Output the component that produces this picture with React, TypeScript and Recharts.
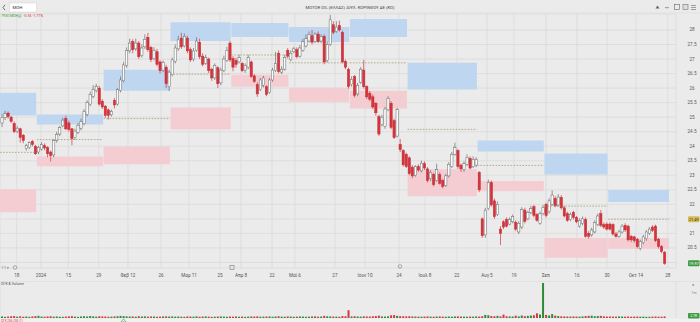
import React from 'react';
import { ComposedChart, Bar, XAxis, YAxis, CartesianGrid, ReferenceArea, ReferenceLine } from 'recharts';

// ---- daily candles (Dec 2023 .. Oct 2024), MOH ----
const opens = [
  24.80,24.98,25.14,25.00,24.78,24.52,24.60,24.38,23.92,23.95,24.16,24.00,
  23.80,23.90,24.02,23.96,23.80,23.70,24.20,24.42,24.70,24.95,24.80,24.60,24.30,24.48,24.62,24.78,25.10,25.45,25.72,25.92,26.00,25.55,
  25.38,25.25,25.08,25.58,25.45,25.92,26.25,26.78,27.28,27.60,27.35,27.55,27.12,27.42,27.75,27.40,27.02,27.25,26.90,26.62,26.72,26.05,
  26.46,26.92,27.35,27.72,27.45,27.72,27.32,27.00,27.30,27.58,27.10,26.85,27.00,26.65,26.35,26.70,26.18,26.60,26.95,27.55,
  27.02,26.95,26.90,26.85,26.62,26.72,26.90,26.42,26.12,25.95,26.10,26.05,25.85,26.28,26.60,27.20,26.55,26.65,27.30,
  26.98,27.25,27.32,27.10,27.30,27.45,27.62,27.80,27.60,27.86,27.62,27.78,26.95,27.50,28.18,27.95,28.15,27.92,26.92,26.65,
  26.12,26.40,25.80,26.20,26.62,26.05,25.82,25.70,25.48,25.02,24.75,24.68,25.26,25.48,24.88,24.35,24.06,23.85,23.72,
  23.60,23.28,23.00,23.30,23.15,23.40,23.22,22.88,23.02,22.82,23.02,22.82,22.65,22.98,23.30,23.72,23.85,23.35,23.20,23.38,23.58,23.30,23.35,
  23.10,21.50,20.95,21.85,22.75,22.12,21.65,21.15,21.40,21.48,21.32,21.40,21.38,21.05,21.22,21.80,21.50,21.72,21.92,21.65,21.35,21.68,
  22.00,21.75,22.00,22.20,21.98,22.24,21.88,21.68,21.48,21.72,21.55,21.25,21.35,21.48,21.00,20.95,21.05,21.30,21.68,21.30,21.32,
  21.32,21.30,20.98,20.90,21.05,21.28,21.25,20.90,20.88,20.80,20.48,20.68,20.82,21.00,21.22,21.25,20.80,20.55,20.35,
];
const highs = [
  25.10,25.22,25.20,25.05,24.85,24.70,24.64,24.42,24.08,24.16,24.22,24.05,
  24.02,24.14,24.10,24.00,23.85,24.25,24.50,24.70,24.98,25.05,24.88,24.62,24.60,24.80,24.95,25.28,25.58,25.88,26.10,26.15,26.08,25.62,
  25.42,25.30,25.26,25.66,26.00,26.40,26.90,27.40,27.70,27.68,27.70,27.62,27.50,27.85,27.90,27.45,27.40,27.35,26.95,26.95,26.80,26.62,
  27.05,27.50,27.80,27.90,27.88,27.80,27.40,27.38,27.75,27.70,27.20,27.15,27.05,26.70,26.85,26.75,26.70,27.12,27.42,27.62,
  27.10,27.05,27.15,26.90,26.85,27.15,26.95,26.48,26.20,26.35,26.42,26.10,26.35,26.70,27.25,27.30,26.75,27.15,27.38,
  27.30,27.42,27.40,27.48,27.70,27.85,27.95,28.00,27.92,27.95,27.85,27.85,27.60,28.52,28.30,28.30,28.32,27.98,26.98,26.70,
  26.40,26.45,26.18,26.72,26.97,26.10,25.90,25.78,25.52,25.08,25.08,25.35,25.72,25.55,24.95,25.32,24.25,23.90,23.78,
  23.65,23.35,23.35,23.38,23.50,23.48,23.28,23.18,23.08,23.40,23.10,22.88,23.05,23.45,23.80,24.12,23.90,23.40,23.48,23.72,23.65,23.65,23.62,
  23.15,21.55,21.88,22.85,22.82,22.20,22.10,21.25,21.45,21.55,21.55,21.65,21.45,21.42,21.90,21.88,21.78,21.95,21.98,21.70,21.75,21.98,
  22.05,22.20,22.48,22.28,22.35,22.32,21.95,21.75,21.72,21.78,21.60,21.52,21.58,21.55,21.08,21.20,21.45,21.68,21.80,21.38,21.38,
  21.38,21.35,21.05,21.12,21.32,21.35,21.30,20.95,20.92,20.85,20.78,20.95,21.12,21.22,21.28,21.30,20.85,20.60,20.40,
];
const lows = [
  24.66,24.90,24.95,24.80,24.45,24.45,24.12,24.10,23.85,23.90,24.00,23.70,
  23.72,23.85,23.86,23.62,23.48,23.62,24.12,24.35,24.66,24.55,24.50,24.04,24.22,24.42,24.55,24.72,25.02,25.38,25.65,25.85,25.40,25.28,
  24.98,24.92,25.02,25.30,25.40,25.85,26.20,26.70,27.20,27.20,27.28,27.00,27.05,27.35,27.25,26.90,26.95,26.75,26.50,26.55,26.00,25.90,
  26.40,26.85,27.28,27.35,27.40,27.20,26.90,26.92,27.25,27.00,26.75,26.80,26.52,26.25,26.28,26.00,26.10,26.55,26.90,26.90,
  26.58,26.70,26.85,26.55,26.52,26.65,26.35,26.18,25.70,25.90,26.02,25.72,25.80,26.22,26.55,26.50,26.48,26.60,27.02,
  26.92,27.20,27.02,27.05,27.25,27.40,27.58,27.50,27.55,27.55,27.55,26.82,26.88,27.45,27.85,27.90,27.95,26.85,26.65,25.98,
  26.05,25.68,25.72,26.15,25.98,25.62,25.55,25.28,25.05,24.35,24.68,24.60,25.20,24.58,24.25,24.30,23.80,23.30,23.25,
  23.00,22.90,22.95,23.12,23.10,23.18,22.75,22.80,22.62,22.78,22.68,22.55,22.60,22.92,23.25,23.68,23.22,23.12,23.12,23.32,23.20,23.25,23.28,
  22.42,20.85,20.85,21.80,21.92,21.50,21.60,20.60,21.15,21.20,21.28,21.35,21.08,20.98,21.15,21.35,21.45,21.66,21.55,21.40,21.30,21.62,
  21.55,21.68,21.95,21.90,21.92,21.82,21.55,21.40,21.42,21.48,21.35,21.20,21.28,20.85,20.82,20.88,21.00,21.25,21.22,21.15,21.10,
  21.10,20.92,20.85,20.85,21.00,21.05,20.72,20.70,20.68,20.48,20.42,20.62,20.75,20.95,21.05,20.70,20.48,20.32,19.92,
];
const closes = [
  24.98,25.12,25.02,24.86,24.50,24.62,24.30,24.20,24.02,24.12,24.06,23.74,
  23.96,24.06,23.94,23.74,23.68,24.20,24.40,24.65,24.90,24.60,24.58,24.26,24.52,24.72,24.85,25.20,25.50,25.78,25.95,26.05,25.45,25.35,
  25.06,25.06,25.20,25.42,25.95,26.28,26.80,27.30,27.55,27.32,27.55,27.08,27.38,27.68,27.32,26.98,27.30,26.82,26.60,26.88,26.15,26.55,
  26.97,27.38,27.66,27.42,27.78,27.28,26.97,27.28,27.62,27.08,26.82,27.05,26.60,26.35,26.78,26.15,26.62,27.00,27.30,26.97,
  26.72,26.82,27.05,26.60,26.78,27.05,26.40,26.23,25.80,26.28,26.35,25.78,26.28,26.62,26.85,26.57,26.65,27.05,27.10,
  27.20,27.35,27.08,27.38,27.60,27.70,27.85,27.58,27.86,27.60,27.78,26.90,27.50,28.35,27.92,28.10,28.00,26.90,26.72,26.05,
  26.30,25.75,26.10,26.65,26.05,25.70,25.62,25.35,25.15,24.42,25.00,25.28,25.65,24.65,24.30,25.26,23.88,23.36,23.30,
  23.06,22.98,23.30,23.18,23.42,23.25,22.82,23.10,22.68,23.20,22.72,22.62,22.98,23.38,23.72,23.95,23.30,23.22,23.40,23.62,23.25,23.55,23.55,
  22.50,20.92,21.80,22.75,21.98,21.58,22.00,21.00,21.22,21.25,21.48,21.58,21.15,21.35,21.82,21.42,21.72,21.85,21.62,21.45,21.68,21.90,
  21.62,22.12,22.32,21.95,22.25,21.88,21.60,21.45,21.65,21.55,21.40,21.45,21.50,20.90,20.90,21.12,21.38,21.60,21.28,21.22,21.15,
  21.15,20.98,20.90,21.05,21.25,21.12,20.78,20.78,20.75,20.55,20.72,20.88,21.05,21.15,21.10,20.75,20.55,20.38,19.97,
];
const volumes = [
  1.6,1.2,1.5,1.8,2.0,1.4,1.7,1.3,1.5,1.2,1.6,1.9,
  2.2,1.5,1.3,1.6,1.8,1.4,1.6,1.3,1.2,1.5,1.7,1.9,1.4,1.2,1.6,1.8,1.5,2.0,1.7,1.4,1.8,1.6,
  1.5,1.3,1.4,1.6,1.8,2.1,1.9,1.7,1.5,1.6,1.3,1.8,1.5,1.7,1.4,1.6,1.5,1.3,1.4,1.6,1.7,1.5,
  1.6,1.4,1.5,1.3,1.2,1.6,1.5,1.4,1.7,1.3,1.5,1.6,1.4,1.2,1.3,1.5,1.6,1.4,1.3,1.5,
  1.4,1.6,1.3,1.5,1.2,1.4,1.6,1.5,1.7,1.3,1.4,1.5,1.6,1.3,1.5,1.8,1.4,1.3,1.6,
  1.5,1.3,1.4,1.6,1.5,1.3,1.4,1.6,1.7,1.4,1.5,2.2,1.8,1.6,1.5,1.4,1.3,2.0,1.8,8.0,
  1.6,1.8,1.5,1.4,1.7,1.6,1.5,1.8,2.0,2.4,1.6,1.5,1.7,2.8,3.0,2.2,1.9,1.8,1.7,
  1.8,1.6,1.5,1.4,1.3,1.5,1.6,1.4,1.3,1.5,1.6,1.4,1.3,1.5,1.4,1.6,1.7,1.5,1.4,1.3,1.5,1.4,1.6,
  1.5,1.8,3.2,2.8,2.0,1.8,2.2,1.7,3.5,1.8,1.6,1.5,2.4,1.7,2.6,1.9,2.2,2.5,2.8,4.8,3.6,36,
  3.2,2.6,4.0,2.4,2.0,1.7,1.6,1.5,1.4,1.6,1.5,1.4,1.6,2.0,2.2,2.4,1.8,2.0,2.2,1.7,1.5,
  1.6,1.5,1.4,1.6,1.5,1.4,1.5,1.3,1.4,1.5,1.3,1.4,1.2,1.3,1.4,1.5,1.3,1.4,1.6,
];

// ---- x-axis ticks (candle index -> label) ----
const tickIdx = [5, 13, 22, 32, 41.6, 52.5, 61.7, 71.9, 78.8, 89, 96.5, 109.7, 119.6, 130.8, 139.3, 149.8, 159.7, 168.6, 179.1, 189.3, 199.2, 208.7, 219.2];
const tickLabels = ['18', '2024', '15', '29', 'Φεβ 12', '26', 'Μαρ 11', '25', 'Απρ 8', '22', 'Μαϊ 6', '27', 'Ιουν 10', '24', 'Ιουλ 8', '22', 'Αυγ 5', '19', 'Σεπ', '16', '30', 'Οκτ 14', '28'];
const priceTicks = [20, 20.5, 21, 21.5, 22, 22.5, 23, 23.5, 24, 24.5, 25, 25.5, 26, 26.5, 27, 27.5, 28];
const hiddenPriceTicks = [20, 21.5];

// ---- monthly zones ----
const zoneStart = [-0.5, 11.6, 33.6, 55.6, 75.6, 94.6, 114.6, 133.6, 156.6, 178.6, 199.6];
const zoneEnd = [11.4, 33.4, 55.4, 75.4, 94.4, 114.4, 133.4, 156.4, 178.4, 199.4, 219.6];
const blueHi = [25.84, 25.09, 26.63, 28.27, 28.24, 28.10, 28.38, 26.87, 24.20, 23.75, 22.49];
const blueLo = [25.06, 24.75, 25.91, 27.62, 27.76, 27.59, 27.76, 25.95, 23.82, 23.03, 22.08];
const pinkHi = [22.52, 23.65, 23.99, 25.33, 26.46, 26.01, 25.91, 23.21, 22.80, 20.84, 20.84];
const pinkLo = [21.73, 23.31, 23.38, 24.58, 26.05, 25.53, 25.30, 22.28, 22.45, 20.16, 20.47];
const pivot = [23.79, 24.23, 24.95, 26.48, 27.14, 26.87, 26.87, 24.58, 23.34, 21.94, 21.49];

const candles = opens.map((o, i) => ({ i, o, h: highs[i], l: lows[i], c: closes[i], v: volumes[i] }));
const lastClose = closes[closes.length - 1];
const lastPivot = pivot[pivot.length - 1];

const FONT = 'Roboto, "DejaVu Sans", Arial, sans-serif';
const BG = '#ebebeb';
const GRID = '#d8d8d8';
const UP_FILL = '#fbfbfb';
const UP_LINE = '#6a6a6a';
const DOWN = '#d6343c';
const BLUE = '#bfd6f0';
const PINK = '#f3cdd1';
const PIVOT_C = '#9c8f66';
const X_DOMAIN: [number, number] = [-0.5, 221.9];

const Candle = (props: any) => {
  const { x, y, width, height, payload } = props;
  if (!payload) return null;
  const { o, h, l, c } = payload;
  const top = Math.min(y, y + height);
  const hgt = Math.abs(height);
  const ratio = h === l ? 0 : hgt / (h - l);
  const py = (v: number) => top + (h - v) * ratio;
  const cx = x + width / 2;
  const up = c >= o;
  const bw = 2.3;
  const bTop = py(Math.max(o, c));
  const bH = Math.max(0.8, Math.abs(py(o) - py(c)));
  return (
    <g>
      <line x1={cx} x2={cx} y1={top} y2={top + hgt} stroke={up ? UP_LINE : DOWN} strokeWidth={0.7} />
      <rect x={cx - bw / 2} y={bTop} width={bw} height={bH} fill={up ? UP_FILL : DOWN} stroke={up ? UP_LINE : '#c42c34'} strokeWidth={0.5} />
    </g>
  );
};

const VolBar = (props: any) => {
  const { x, y, width, height, payload } = props;
  if (!payload) return null;
  const up = payload.c >= payload.o;
  return <rect x={x} y={y} width={width} height={Math.max(0.8, height)} fill={up ? '#2f8a35' : '#d23a40'} />;
};

const XTick = (props: any) => {
  const { x, payload } = props;
  const k = tickIdx.indexOf(payload.value);
  return (
    <text x={x} y={276} textAnchor="middle" dominantBaseline="middle" fontSize={4.6} fill="#555" fontFamily={FONT}>
      {k >= 0 ? tickLabels[k] : ''}
    </text>
  );
};

const YTick = (props: any) => {
  const { y, payload } = props;
  if (hiddenPriceTicks.includes(payload.value)) return <g />;
  return (
    <text x={692} y={y} textAnchor="middle" dominantBaseline="central" fontSize={4.6} fill="#555" fontFamily={FONT}>
      {String(payload.value)}
    </text>
  );
};

const PriceBadge = (fill: string, textFill: string, text: string) => (p: any) => {
  const vb = p.viewBox || {};
  const bx = (vb.x || 0) + (vb.width || 0) + 12;
  const by = vb.y || 0;
  return (
    <g>
      <rect x={bx} y={by - 3} width={11.5} height={6} rx={1} fill={fill} />
      <text x={bx + 5.75} y={by} textAnchor="middle" dominantBaseline="central" fontSize={4} fill={textFill} fontFamily={FONT}>{text}</text>
    </g>
  );
};

export default function App() {
  return (
    <div style={{ position: 'fixed', left: 0, top: 0, width: 700, height: 322, background: BG, overflow: 'hidden', fontFamily: FONT }}>
      <div style={{ position: 'absolute', left: 0, top: 0 }}>
        <ComposedChart width={700} height={282} data={candles} margin={{ top: 14, right: 0, bottom: 0, left: 0 }}>
          <CartesianGrid stroke={GRID} strokeWidth={0.7} />
          <XAxis dataKey="i" type="number" domain={X_DOMAIN} ticks={tickIdx} interval={0} height={14} axisLine={false} tickLine={false} tick={<XTick />} allowDataOverflow />
          <YAxis orientation="right" type="number" domain={[19.81, 28.55]} ticks={priceTicks} interval={0} width={24} axisLine={false} tickLine={false} tick={<YTick />} allowDataOverflow />
          {zoneStart.map((s, k) => (
            <ReferenceArea key={'b' + k} x1={s} x2={zoneEnd[k]} y1={blueLo[k]} y2={blueHi[k]} fill={BLUE} fillOpacity={1} stroke="none" ifOverflow="extendDomain" />
          ))}
          {zoneStart.map((s, k) => (
            <ReferenceArea key={'p' + k} x1={s} x2={zoneEnd[k]} y1={pinkLo[k]} y2={pinkHi[k]} fill={PINK} fillOpacity={1} stroke="none" ifOverflow="extendDomain" />
          ))}
          {zoneStart.map((s, k) => (
            <ReferenceLine key={'v' + k} segment={[{ x: s, y: pivot[k] }, { x: zoneEnd[k], y: pivot[k] }]} stroke={PIVOT_C} strokeWidth={0.7} strokeDasharray="1.6 1.4" />
          ))}
          <Bar dataKey={(d: any) => [d.l, d.h]} barSize={2} shape={<Candle />} isAnimationActive={false} />
          <ReferenceLine y={lastPivot} stroke="none" strokeOpacity={0} label={{ content: PriceBadge('#d8bd55', '#333', lastPivot.toFixed(2)) } as any} />
          <ReferenceLine y={lastClose} stroke="none" strokeOpacity={0} label={{ content: PriceBadge('#3e9a44', '#fff', lastClose.toFixed(2)) } as any} />
        </ComposedChart>
      </div>
      <div style={{ position: 'absolute', left: 0, top: 282 }}>
        <ComposedChart width={700} height={38} data={candles} margin={{ top: 0, right: 0, bottom: 2, left: 0 }}>
          <CartesianGrid stroke={GRID} strokeWidth={0.7} horizontal={false} />
          <XAxis dataKey="i" type="number" domain={X_DOMAIN} ticks={tickIdx} interval={0} height={0} axisLine={false} tickLine={false} tick={false} allowDataOverflow />
          <YAxis orientation="right" type="number" domain={[0, 37]} width={24} axisLine={false} tickLine={false} tick={false} allowDataOverflow />
          <Bar dataKey="v" barSize={2} shape={<VolBar />} isAnimationActive={false} />
        </ComposedChart>
      </div>
      <svg width={700} height={322} style={{ position: 'absolute', left: 0, top: 0, pointerEvents: 'none' }} fontFamily={FONT}>
        <line x1={0} x2={700} y1={13} y2={13} stroke="#dcdcdc" strokeWidth={0.6} />
        <polyline points="5,4.8 3,7.5 5,10.2" fill="none" stroke="#555" strokeWidth={0.8} />
        <rect x={9.5} y={3} width={27} height={9} fill="#ffffff" stroke="#d0d0d0" strokeWidth={0.5} />
        <text x={12.5} y={7.6} fontSize={4.4} fill="#333" dominantBaseline="middle">MOH</text>
        <text x={350} y={7.4} fontSize={4.3} fill="#444" textAnchor="middle" dominantBaseline="middle">MOTOR OIL (ΕΛΛΑΣ) ΔΙΥΛ. ΚΟΡΙΝΘΟΥ ΑΕ (ΚΟ)</text>
        <path d="M655.5,8.5 L657.5,5.5 L659.5,8.5 Z" fill="#666" />
        <text x={667} y={7.4} fontSize={4.5} fill="#555" textAnchor="middle" dominantBaseline="middle">↔</text>
        <rect x={674.5} y={4.5} width={5} height={5} fill="none" stroke="#666" strokeWidth={0.6} />
        <rect x={683} y={4.5} width={5} height={5} fill="#dddddd" stroke="#777" strokeWidth={0.6} />
        <line x1={691} x2={696} y1={5.5} y2={5.5} stroke="#666" strokeWidth={0.6} />
        <line x1={691} x2={696} y1={7.5} y2={7.5} stroke="#666" strokeWidth={0.6} />
        <line x1={691} x2={696} y1={9.5} y2={9.5} stroke="#666" strokeWidth={0.6} />
        <text x={1} y={15.8} fontSize={3.6} fill="#3a9a3a" dominantBaseline="middle">7930 MOH@</text>
        <text x={23.5} y={15.8} fontSize={3.6} fill="#d6343c" dominantBaseline="middle">-0.36 -1.77%</text>
        <text x={1.5} y={268.5} fontSize={3.4} fill="#666" dominantBaseline="middle">1:1 ▾</text>
        <circle cx={15} cy={267.5} r={1.8} fill="none" stroke="#666" strokeWidth={0.5} />
        <rect x={230} y={265.5} width={4} height={4} fill="none" stroke="#666" strokeWidth={0.5} />
        <circle cx={400} cy={266.5} r={1.8} fill="none" stroke="#666" strokeWidth={0.5} />
        <line x1={0} x2={700} y1={281.5} y2={281.5} stroke="#d6d6d6" strokeWidth={0.5} />
        <text x={1} y={284.5} fontSize={3.6} fill="#555" dominantBaseline="middle">ΟΓΚ &amp; Volume</text>
        <text x={693} y={284.5} fontSize={4.2} fill="#666" textAnchor="middle" dominantBaseline="middle">×</text>
        <text x={694} y={293.5} fontSize={3.4} fill="#777" textAnchor="middle" dominantBaseline="middle">1m</text>
        <rect x={688} y={313} width={11.5} height={5.5} rx={1} fill="#3e9a44" />
        <text x={693.75} y={315.8} fontSize={3.6} fill="#fff" textAnchor="middle" dominantBaseline="middle">2.7K</text>
        <rect x={0} y={319} width={700} height={3} fill="#f1f1f1" />
        <text x={1} y={320.8} fontSize={3} fill="#d6343c" dominantBaseline="middle">ΟΓΚ 206.250 (1)</text>
        <path d="M121,322 L123.5,318.8 L126,322 Z" fill="none" stroke="#4aa04a" strokeWidth={0.6} />
      </svg>
    </div>
  );
}
